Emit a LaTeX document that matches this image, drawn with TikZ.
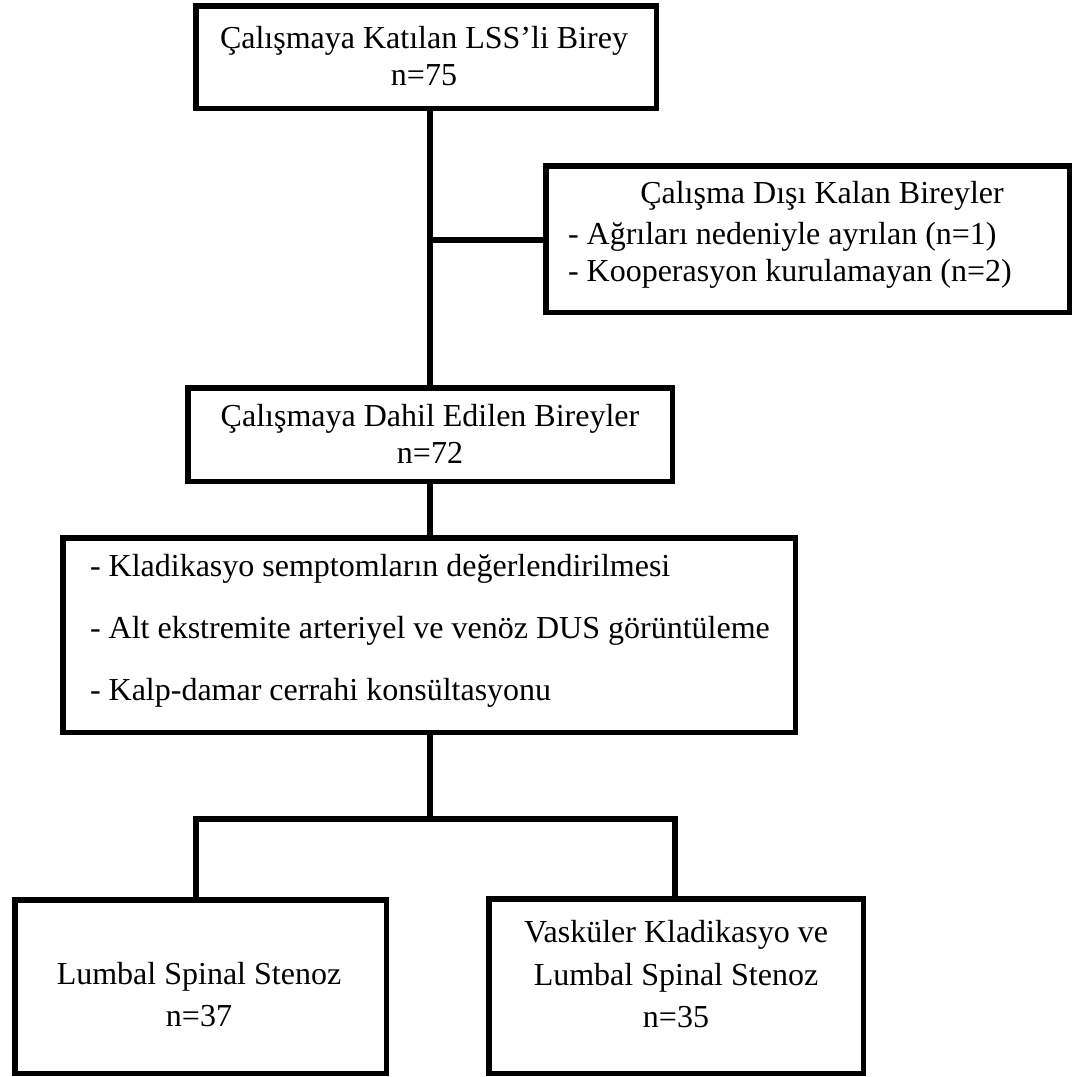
\documentclass[tikz,border=0pt]{standalone}
\usepackage{fontspec}
\setmainfont{Liberation Serif}
\begin{document}
\begin{tikzpicture}[x=1pt,y=-1pt,
  box/.style={draw=black,line width=5.5pt,inner sep=0pt,outer sep=0pt,fill=none},
  txt/.style={inner sep=0pt,outer sep=0pt,font=\fontsize{32}{38}\selectfont},
  conn/.style={draw=black,line width=5.5pt}]
\useasboundingbox[fill=white] (0,0) rectangle (1074,1077);
% boxes
\node[box,minimum width=460.5pt,minimum height=102.5pt] (b1) at (426,57) {};
\node[box,minimum width=523.5pt,minimum height=146.5pt] (b2) at (807.5,239) {};
\node[box,minimum width=484.5pt,minimum height=93.5pt] (b3) at (430,434.5) {};
\node[box,minimum width=732.5pt,minimum height=194.5pt] (b4) at (429,635) {};
\node[box,minimum width=371.5pt,minimum height=173.5pt] (b5) at (200.5,986.5) {};
\node[box,minimum width=374.5pt,minimum height=174.5pt] (b6) at (676,986) {};
% texts
\node[txt,anchor=base] (t1a) at (424,48) {Çalışmaya Katılan LSS’li Birey};
\node[txt,anchor=base] (t1b) at (424,85) {n=75};
\node[txt,anchor=base] (t2a) at (822,203) {Çalışma Dışı Kalan Bireyler};
\node[txt,anchor=base west] (t2b) at (568,244) {- Ağrıları nedeniyle ayrılan (n=1)};
\node[txt,anchor=base west] (t2c) at (568,281) {- Kooperasyon kurulamayan (n=2)};
\node[txt,anchor=base] (t3a) at (430,426) {Çalışmaya Dahil Edilen Bireyler};
\node[txt,anchor=base] (t3b) at (430,463) {n=72};
\node[txt,anchor=base west] (t4a) at (90,576) {- Kladikasyo semptomların değerlendirilmesi};
\node[txt,anchor=base west] (t4b) at (90,638) {- Alt ekstremite arteriyel ve venöz DUS görüntüleme};
\node[txt,anchor=base west] (t4c) at (90,700) {- Kalp-damar cerrahi konsültasyonu};
\node[txt,anchor=base] (t5a) at (199,984) {Lumbal Spinal Stenoz};
\node[txt,anchor=base] (t5b) at (199,1026) {n=37};
\node[txt,anchor=base] (t6a) at (676,942) {Vasküler Kladikasyo ve};
\node[txt,anchor=base] (t6b) at (676,985) {Lumbal Spinal Stenoz};
\node[txt,anchor=base] (t6c) at (676,1027) {n=35};
% junctions
\coordinate (j1) at (430,240);
\coordinate (j2) at (430,819);
\coordinate (j3) at (196,819);
\coordinate (j4) at (675,819);
% connectors
\draw[conn] (b1.south -| j1) -- (b3.north -| j1);
\draw[conn] (j1) -- (j1 -| b2.west);
\draw[conn] (b3.south -| j1) -- (b4.north -| j1);
\draw[conn] (b4.south -| j2) -- (j2);
\draw[conn] (b5.north -| j3) -- (j3) -- (j4) -- (b6.north -| j4);
\end{tikzpicture}
\end{document}
